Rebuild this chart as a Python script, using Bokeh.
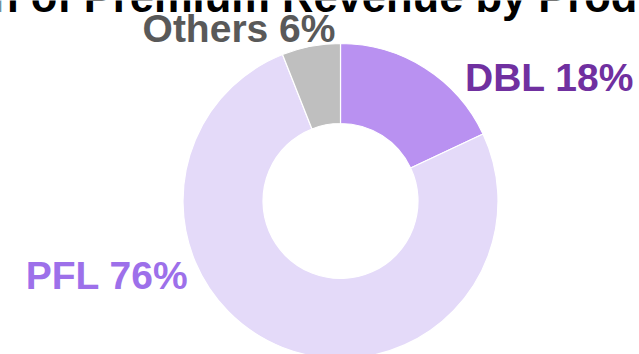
import math
from bokeh.plotting import figure
from bokeh.models import ColumnDataSource, Range1d, Label
from bokeh.embed import file_html
from bokeh.resources import INLINE
from bokeh.core.properties import value

# ---- data ----
title_text = "Distribution of Premium Revenue by Product"
categories = ["DBL", "PFL", "Others"]
shares = [18, 76, 6]
wedge_colors = ["#B991F1", "#E4DAF9", "#BFBFBF"]
label_colors = ["#7030A0", "#9D70EA", "#595959"]

# ---- layout (pixel space) ----
W, H = 639, 354
cx, cy = 340, H - 200.5
r_in, r_out = 77.5, 157.5
label_pos = {"DBL": (549, H - 77), "PFL": (106.5, H - 275), "Others": (238.5, H - 28)}

total = float(sum(shares))
starts, ends = [], []
cum = 0.0
for v in shares:
    starts.append(math.pi / 2 - 2 * math.pi * cum / total)
    cum += v
    ends.append(math.pi / 2 - 2 * math.pi * cum / total)

src = ColumnDataSource(dict(
    x=[cx] * len(shares), y=[cy] * len(shares),
    start=starts, end=ends, color=wedge_colors,
))

p = figure(width=W, height=H, x_range=Range1d(0, W), y_range=Range1d(0, H),
           output_backend="svg", toolbar_location=None, min_border=0,
           outline_line_color=None, background_fill_color="white",
           border_fill_color="white")
p.axis.visible = False
p.grid.visible = False

p.annular_wedge(x="x", y="y", inner_radius=r_in, outer_radius=r_out,
                start_angle="start", end_angle="end", direction="clock",
                fill_color="color", line_color="white", line_width=1.2,
                source=src)

lsrc = ColumnDataSource(dict(
    x=[label_pos[c][0] for c in categories],
    y=[label_pos[c][1] for c in categories],
    text=[f"{c} {v}%" for c, v in zip(categories, shares)],
    color=label_colors,
))
p.text(x="x", y="y", text="text", text_color="color", source=lsrc,
       text_font=value("Liberation Sans"), text_font_style="bold",
       text_font_size="39px", text_align="center", text_baseline="alphabetic")

title = Label(x=-226, y=H + 4, text=title_text, text_align="left",
              text_baseline="alphabetic", text_font="Liberation Sans",
              text_font_style="bold", text_font_size="43.5px",
              text_color="#000000")
p.add_layout(title)

open("out.html", "w").write(file_html(p, INLINE))
